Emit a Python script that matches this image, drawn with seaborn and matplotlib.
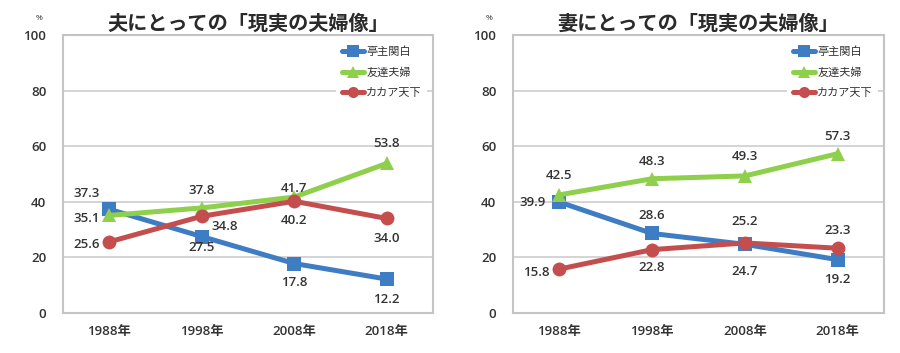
import matplotlib
matplotlib.use("Agg")
import matplotlib.pyplot as plt
import seaborn as sns
import pandas as pd

years = ["1988年", "1998年", "2008年", "2018年"]
series_names = ["亭主関白", "友達夫婦", "カカア天下"]

husband_teishu = [37.3, 27.5, 17.8, 12.2]
husband_tomodachi = [35.1, 37.8, 41.7, 53.8]
husband_kakaa = [25.6, 34.8, 40.2, 34.0]

wife_teishu = [39.9, 28.6, 24.7, 19.2]
wife_tomodachi = [42.5, 48.3, 49.3, 57.3]
wife_kakaa = [15.8, 22.8, 25.2, 23.3]

titles = ["夫にとっての「現実の夫婦像」", "妻にとっての「現実の夫婦像」"]
yticks = [0, 20, 40, 60, 80, 100]

# styling
colors = ["#3E7CC3", "#8ED04B", "#C44E4D"]
markers = ["s", "^", "o"]
# label offsets in pixels (dx right, dy down), per panel/series/point
offsets = [
    [[(-23, -16), (0, 11), (0, 19), (0, 20)],
     [(-23, 3), (0, -17), (0, -9), (0, -20)],
     [(-23, 3), (23, 10), (0, 19), (0, 20)]],
    [[(-27, 0), (0, -18), (0, 27), (0, 20)],
     [(0, -19), (0, -17), (0, -19), (0, -17)],
     [(-23, 3), (0, 18), (0, -21), (0, -18)]],
]

sns.set_theme(style="white")
num_family = ["Open Sans", "Noto Sans CJK JP", "DejaVu Sans"]
cjk_family = ["Noto Sans CJK JP", "DejaVu Sans"]
plt.rcParams["font.family"] = num_family

panels = [
    [husband_teishu, husband_tomodachi, husband_kakaa],
    [wife_teishu, wife_tomodachi, wife_kakaa],
]

fig = plt.figure(figsize=(9, 3.53), dpi=100)
axes_pos = [[63 / 900, 40 / 353, 370 / 900, 278 / 353],
            [513 / 900, 40 / 353, 371 / 900, 278 / 353]]

text_color = "#333333"
for p, (vals, title) in enumerate(zip(panels, titles)):
    ax = fig.add_axes(axes_pos[p])
    rows = []
    for name, v in zip(series_names, vals):
        for i, y in enumerate(v):
            rows.append({"x": i, "y": y, "series": name})
    df = pd.DataFrame(rows)
    ax.set_axisbelow(True)
    ax.yaxis.grid(True, color="#d4d4d4", linewidth=1.4)
    ax.xaxis.grid(False)
    sns.lineplot(data=df, x="x", y="y", hue="series", style="series",
                 hue_order=series_names, style_order=series_names,
                 palette=colors, markers=dict(zip(series_names, markers)),
                 dashes=False, linewidth=3.6, markersize=10,
                 markeredgewidth=0, ax=ax, legend=True, zorder=3)
    for s, v in enumerate(vals):
        for i, y in enumerate(v):
            dx, dy = offsets[p][s][i]
            ax.annotate(f"{y:.1f}", (i, y), xytext=(dx * 0.72, -dy * 0.72),
                        textcoords="offset points", ha="center", va="center",
                        fontsize=9.5, fontweight="semibold", color=text_color,
                        zorder=5)
    ax.set_xlim(-0.5, 3.5)
    ax.set_ylim(0, 100)
    ax.set_xticks(range(len(years)))
    ax.set_xticklabels(years)
    ax.set_yticks(yticks)
    ax.set_yticklabels([str(t) for t in yticks])
    ax.tick_params(axis="both", length=0, labelsize=9.5, colors=text_color)
    ax.tick_params(axis="y", pad=12)
    ax.tick_params(axis="x", pad=9)
    for lab in ax.get_xticklabels() + ax.get_yticklabels():
        lab.set_fontweight("semibold")
    ax.set_xlabel("")
    ax.set_ylabel("")
    for sp in ax.spines.values():
        sp.set_color("#c4c4c4")
        sp.set_linewidth(1.5)
    ax.set_title(title, fontsize=14.5, fontweight="bold", color="#2a2a2a",
                 pad=4, family=cjk_family)
    ax.text(-0.055, 1.06, "%", transform=ax.transAxes, fontsize=6,
            ha="right", va="center", color=text_color)
    leg = ax.legend(loc="upper right", bbox_to_anchor=(1.0, 1.0),
                    prop={"family": cjk_family, "size": 8},
                    frameon=True, handlelength=2.0,
                    handletextpad=0.2, labelspacing=0.95, borderpad=0.5,
                    markerscale=0.8)
    leg.get_frame().set_facecolor("white")
    leg.get_frame().set_edgecolor("none")
    leg.get_frame().set_alpha(1)
    for t in leg.get_texts():
        t.set_color(text_color)
    leg.set_zorder(10)

fig.savefig("out.png", dpi=100, facecolor="white")
